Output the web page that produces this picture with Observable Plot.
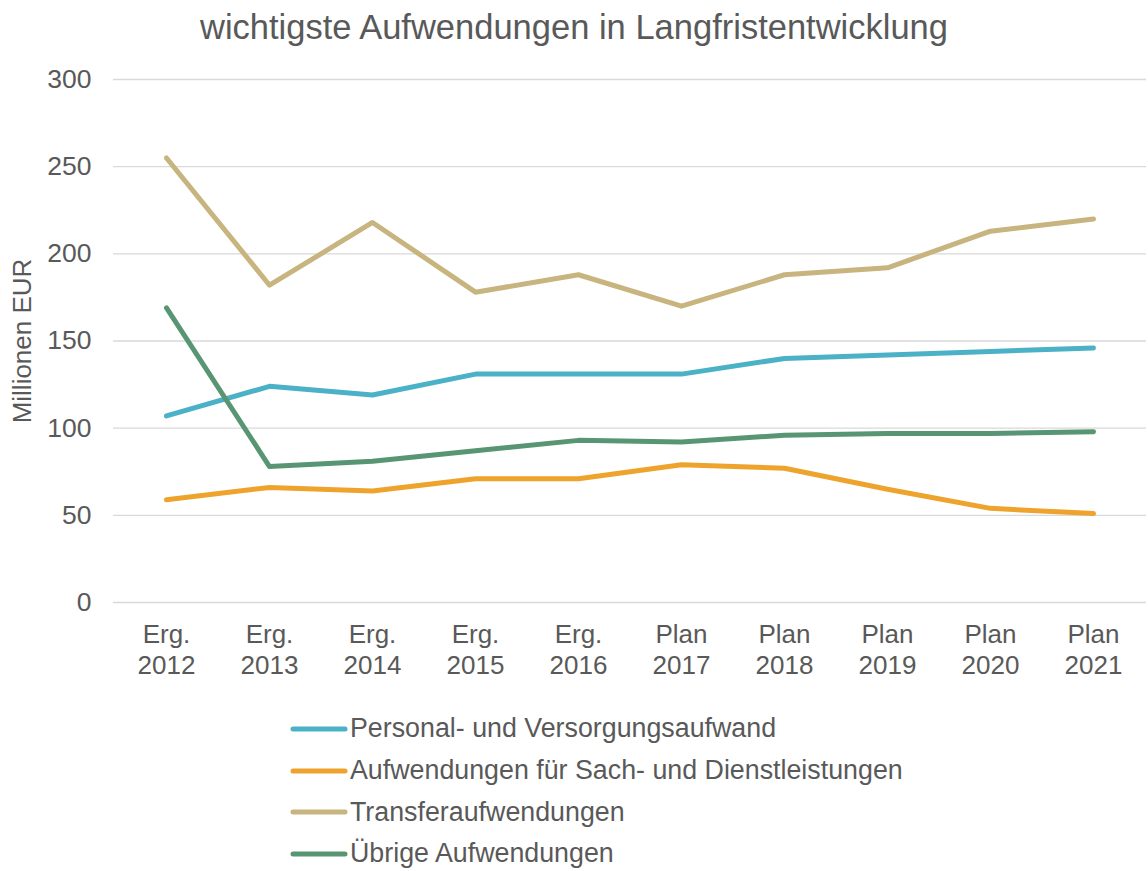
<!DOCTYPE html>
<html>
<head>
<meta charset="utf-8">
<script src="https://cdn.jsdelivr.net/npm/d3@7"></script>
<script src="https://cdn.jsdelivr.net/npm/@observablehq/plot@0.6"></script>
<style>
  html, body { margin: 0; padding: 0; background: #fff; }
  body { font-family: "Liberation Sans", Arial, sans-serif; color: #595959; }
  #wrap { position: relative; width: 1148px; height: 871px; overflow: hidden; }
  #title { position: absolute; left: 0; top: 7px; width: 1148px; text-align: center;
           font-size: 34.5px; line-height: 40px; color: #595959; }
  #chart { position: absolute; left: 0; top: 60px; }
  #legend { position: absolute; left: 290px; top: 708px; }
  .row { display: flex; align-items: center; height: 41.7px; font-size: 26.8px; color: #595959; }
  .row svg { margin-right: 2px; }
</style>
</head>
<body>
<div id="wrap">
  <div id="title"></div>
  <div id="chart"></div>
  <div id="legend"></div>
</div>
<script>
const titleText = "wichtigste Aufwendungen in Langfristentwicklung";
const yLabel = "Millionen EUR";
const categories = ["Erg.\n2012", "Erg.\n2013", "Erg.\n2014", "Erg.\n2015", "Erg.\n2016",
                    "Plan\n2017", "Plan\n2018", "Plan\n2019", "Plan\n2020", "Plan\n2021"];
const yTicks = [0, 50, 100, 150, 200, 250, 300];

const seriesNames = ["Personal- und Versorgungsaufwand",
                     "Aufwendungen für Sach- und Dienstleistungen",
                     "Transferaufwendungen",
                     "Übrige Aufwendungen"];
const seriesColors = ["#4bb1c6", "#eea42c", "#c7b47e", "#589673"];

const personal = [107, 124, 119, 131, 131, 131, 140, 142, 144, 146];
const sach     = [59, 66, 64, 71, 71, 79, 77, 65, 54, 51];
const transfer = [255, 182, 218, 178, 188, 170, 188, 192, 213, 220];
const uebrige  = [169, 78, 81, 87, 93, 92, 96, 97, 97, 98];

const seriesValues = [personal, sach, transfer, uebrige];
const data = [];
seriesValues.forEach((vals, si) => {
  vals.forEach((v, i) => data.push({ x: categories[i], y: v, s: seriesNames[si] }));
});

document.getElementById("title").textContent = titleText;

const font = '"Liberation Sans", Arial, sans-serif';
const chart = Plot.plot({
  width: 1148,
  height: 640,
  marginTop: 19,
  marginBottom: 98,
  marginLeft: 113,
  marginRight: 2,
  style: { fontFamily: font, fontSize: "26px", color: "#595959", background: "#fff", overflow: "visible" },
  x: { type: "point", domain: categories, padding: 0.5 },
  y: { domain: [0, 300] },
  color: { domain: seriesNames, range: seriesColors },
  marks: [
    Plot.gridY(yTicks, { stroke: "#d9d9d9", strokeOpacity: 1, strokeWidth: 1.4 }),
    Plot.axisY(yTicks, { tickSize: 0, tickPadding: 22, label: null, fontSize: 26.5, fill: "#595959" }),
    Plot.axisX({ tickSize: 0, tickPadding: 18, label: null, fontSize: 26, fill: "#595959", lineHeight: 1.2 }),
    Plot.text([yLabel], { frameAnchor: "left", textAnchor: "middle", rotate: -90, dx: -91, fontSize: 26, fill: "#595959" }),
    Plot.line(data, { x: "x", y: "y", z: "s", stroke: "s", strokeWidth: 5,
                      strokeLinecap: "round", strokeLinejoin: "round" })
  ]
});
document.getElementById("chart").appendChild(chart);

const legend = document.getElementById("legend");
seriesNames.forEach((name, i) => {
  const row = document.createElement("div");
  row.className = "row";
  row.innerHTML = `<svg width="58" height="8"><line x1="3" y1="4" x2="55" y2="4" stroke="${seriesColors[i]}" stroke-width="5" stroke-linecap="round"/></svg><span></span>`;
  row.querySelector("span").textContent = name;
  legend.appendChild(row);
});
</script>
</body>
</html>
